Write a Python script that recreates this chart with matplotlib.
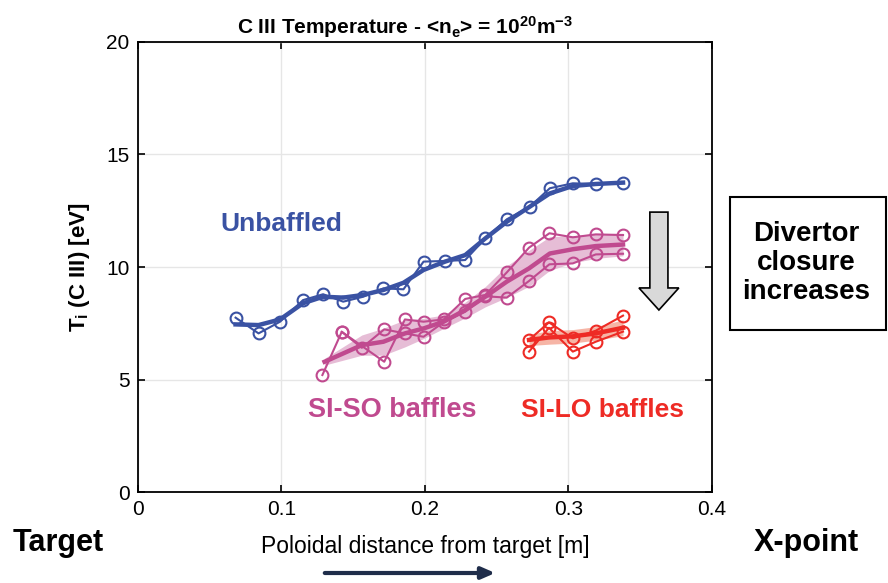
# C III temperature vs poloidal distance, three divertor configurations
import matplotlib.pyplot as plt
import numpy as np
from matplotlib.patches import Polygon, Rectangle

plt.rcParams['font.family'] = ['Liberation Sans Narrow', 'Liberation Sans', 'DejaVu Sans']
plt.rcParams['mathtext.fontset'] = 'custom'
plt.rcParams['mathtext.rm'] = 'Liberation Sans'
plt.rcParams['mathtext.bf'] = 'Liberation Sans:bold'
plt.rcParams['mathtext.it'] = 'Liberation Sans'

# unbaffled: measured points and smoothed fit
unb_x = [0.068, 0.084, 0.099, 0.115, 0.129, 0.143, 0.157, 0.171, 0.185, 0.199,
         0.214, 0.228, 0.242, 0.257, 0.273, 0.287, 0.303, 0.319, 0.338]
unb_y = [7.75, 7.05, 7.57, 8.53, 8.79, 8.46, 8.68, 9.05, 9.01, 10.24,
         10.27, 10.31, 11.27, 12.12, 12.68, 13.50, 13.72, 13.69, 13.75]
unb_fit = [7.45, 7.42, 7.67, 8.39, 8.68, 8.64, 8.76, 8.98, 9.30, 9.87,
           10.24, 10.53, 11.27, 12.01, 12.68, 13.27, 13.60, 13.69, 13.75]

# SI-SO baffles: two shots, mean and spread
siso_a_x = [0.1285, 0.142, 0.1716, 0.186, 0.199, 0.213, 0.228, 0.242, 0.257,
            0.2725, 0.2867, 0.303, 0.319, 0.338]
siso_a_y = [5.20, 7.12, 5.79, 7.67, 7.57, 7.67, 8.58, 8.76, 9.76,
            10.86, 11.50, 11.32, 11.45, 11.42]
siso_b_x = [0.142, 0.156, 0.1716, 0.186, 0.199, 0.213, 0.228, 0.242, 0.257,
            0.2725, 0.2867, 0.303, 0.319, 0.338]
siso_b_y = [7.12, 6.41, 7.23, 7.05, 6.90, 7.55, 8.01, 8.70, 8.64,
            9.38, 10.12, 10.16, 10.56, 10.59]
siso_fit_x = [0.13, 0.156, 0.171, 0.186, 0.199, 0.213, 0.228, 0.242, 0.257,
              0.2725, 0.287, 0.303, 0.319, 0.338]
siso_fit = [5.79, 6.53, 6.68, 7.05, 7.27, 7.57, 8.09, 8.68, 9.35,
            9.94, 10.60, 10.79, 10.93, 11.00]
siso_err = [0.15, 0.45, 0.60, 0.60, 0.45, 0.30, 0.35, 0.45, 0.70,
            0.80, 0.75, 0.60, 0.55, 0.50]

# SI-LO baffles
silo_a_x = [0.2725, 0.2864, 0.303, 0.319, 0.338]
silo_a_y = [6.76, 7.54, 6.83, 7.17, 7.84]
silo_b_y = [6.24, 7.30, 6.24, 6.68, 7.13]
silo_fit = [6.76, 6.87, 6.92, 7.05, 7.30]
silo_err = [0.25, 0.30, 0.30, 0.30, 0.35]

blue = '#3a52a3'
pink = '#c04a8f'
pink_band = '#e4b6d2'
red = '#ee2b25'
red_band = '#f6ad9c'

fig = plt.figure(figsize=(8.88, 5.83), dpi=100)
ax = fig.add_axes([0.1554, 0.156, 0.6464, 0.772])

mk = dict(marker='o', markersize=8.5, markerfacecolor='none', markeredgewidth=1.5, lw=1.5)

ax.plot(unb_x, unb_y, color=blue, **mk)
ax.plot(unb_x, unb_fit, color=blue, lw=3.2)

ax.fill_between(siso_fit_x, np.array(siso_fit) - siso_err, np.array(siso_fit) + siso_err,
                color=pink_band, lw=0, alpha=0.9)
ax.plot(siso_a_x, siso_a_y, color=pink, **mk)
ax.plot(siso_b_x, siso_b_y, color=pink, **mk)
ax.plot(siso_fit_x, siso_fit, color=pink, lw=3.2)

ax.fill_between(silo_a_x, np.array(silo_fit) - silo_err, np.array(silo_fit) + silo_err,
                color=red_band, lw=0, alpha=0.9)
ax.plot(silo_a_x, silo_a_y, color=red, **mk)
ax.plot(silo_a_x, silo_b_y, color=red, **mk)
ax.plot(silo_a_x, silo_fit, color=red, lw=3.2)

# grey "closure" arrow
cx, sw, hw = 0.363, 0.0063, 0.0139
top, neck, tip = 12.44, 9.07, 8.09
arrow = Polygon([(cx - sw, top), (cx + sw, top), (cx + sw, neck), (cx + hw, neck),
                 (cx, tip), (cx - hw, neck), (cx - sw, neck)],
                closed=True, facecolor='#d9d9d9', edgecolor='black', lw=1.2, zorder=5)
ax.add_patch(arrow)

ax.text(0.0997, 11.9, 'Unbaffled', color=blue, fontsize=19, fontweight='bold',
        ha='center', va='center')
ax.text(0.177, 3.64, 'SI-SO baffles', color=pink, fontsize=19.5, fontweight='bold',
        ha='center', va='center')
ax.text(0.324, 3.64, 'SI-LO baffles', color=red, fontsize=19, fontweight='bold',
        ha='center', va='center')

ax.set_xlim(0, 0.4)
ax.set_ylim(0, 20)
ax.set_xticks([0, 0.1, 0.2, 0.3, 0.4])
ax.set_xticklabels(['0', '0.1', '0.2', '0.3', '0.4'])
ax.set_yticks([0, 5, 10, 15, 20])
ax.tick_params(direction='in', top=True, right=True, labelsize=15, length=5, width=1.2,
               pad=6)
ax.grid(True, color='#e6e6e6', lw=1)
ax.set_axisbelow(True)
for s in ax.spines.values():
    s.set_linewidth(1.3)

ax.set_ylabel(r'T$_\mathregular{i}$ (C III) [eV]', fontsize=16, fontweight='bold', labelpad=10)
ax.set_xlabel('Poloidal distance from target [m]', fontsize=16.5, labelpad=11)
ax.set_title(r'C III Temperature - <n$_\mathbf{e}$> = 10$^\mathbf{20}$m$^\mathbf{-3}$',
             fontsize=15, fontweight='bold', family='Liberation Sans', pad=6, x=0.466)

fig.text(58 / 888, 1 - 543 / 583, 'Target', fontsize=22, fontweight='bold',
         ha='center', va='center')
fig.text(806 / 888, 1 - 543 / 583, 'X-point', fontsize=22, fontweight='bold',
         ha='center', va='center')

# box on the right
box = Rectangle((730 / 888, 1 - 330 / 583), 156 / 888, 133 / 583, transform=fig.transFigure,
                facecolor='white', edgecolor='black', lw=1.5)
fig.patches.append(box)
fig.text(806 / 888, 1 - 263 / 583, 'Divertor\nclosure\nincreases', fontsize=20,
         fontweight='bold', ha='center', va='center', linespacing=1.15)

# direction arrow under the x label
ax.annotate('', xy=(498 / 888, 1 - 573 / 583), xytext=(322 / 888, 1 - 573 / 583),
            xycoords='figure fraction', textcoords='figure fraction',
            arrowprops=dict(arrowstyle='-|>,head_length=0.8,head_width=0.35',
                            color='#1f2d4a', lw=3))

plt.savefig('out.png', dpi=100)
